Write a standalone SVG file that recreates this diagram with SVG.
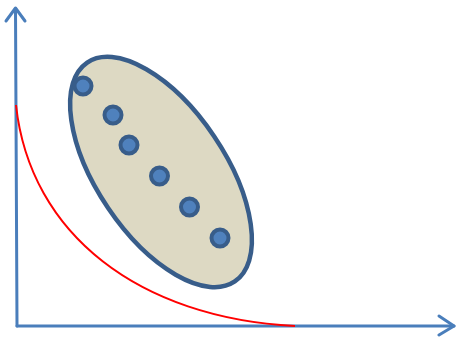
<svg xmlns="http://www.w3.org/2000/svg" width="456" height="338" viewBox="0 0 456 338">
<style>
.axis{fill:none;stroke:#4a7ebb;stroke-width:3;stroke-linecap:round;stroke-linejoin:round}
.dot{fill:#4f81bd;stroke:#385d8a;stroke-width:4}
</style>
<rect width="456" height="338" fill="#fff"/>
<g id="axes">
<path class="axis" d="M17,326 L15.5,9"/>
<path class="axis" d="M6,21 L15.5,8 L25,21"/>
<path class="axis" d="M17,326 L454,326"/>
<path class="axis" d="M439,316 L454,326 L439,335"/>
</g>
<g id="curve">
<path d="M16,105 C30,235 140,318 295,326" fill="none" stroke="#ff0000" stroke-width="2"/>
</g>
<g id="cluster">
<ellipse cx="161" cy="172" rx="132" ry="64" transform="rotate(56 161 172)" fill="#ddd9c3" stroke="#385d8a" stroke-width="4.5"/>
</g>
<g id="points">
<circle class="dot" cx="83" cy="86" r="8.5"/>
<circle class="dot" cx="113" cy="115" r="8.5"/>
<circle class="dot" cx="129" cy="145" r="8.5"/>
<circle class="dot" cx="159.5" cy="176" r="8.5"/>
<circle class="dot" cx="189.5" cy="207" r="8.5"/>
<circle class="dot" cx="220" cy="238" r="8.5"/>
</g>
</svg>
